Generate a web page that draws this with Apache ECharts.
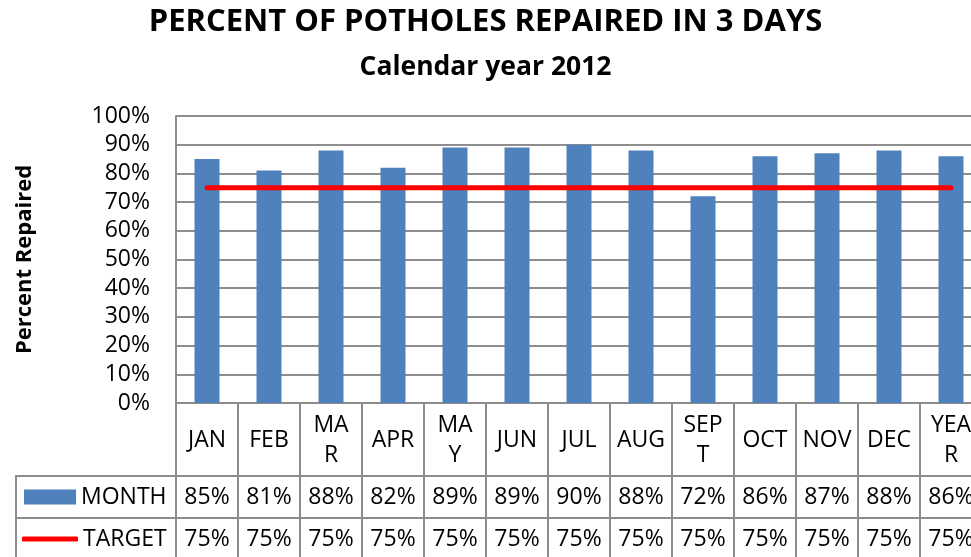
<!DOCTYPE html>
<html>
<head>
<meta charset="utf-8">
<script src="https://cdn.jsdelivr.net/npm/echarts@6/dist/echarts.min.js"></script>
<style>
  html, body { margin: 0; padding: 0; background: #fff; }
  #chart { width: 971px; height: 557px; }
</style>
</head>
<body>
<div id="chart"></div>
<script>
// data
const categories = ['JAN', 'FEB', 'MAR', 'APR', 'MAY', 'JUN', 'JUL', 'AUG', 'SEPT', 'OCT', 'NOV', 'DEC', 'YEAR']
// labels as wrapped in the table header
const catLabels = ['JAN', 'FEB', 'MA\nR', 'APR', 'MA\nY', 'JUN', 'JUL', 'AUG', 'SEP\nT', 'OCT', 'NOV', 'DEC', 'YEA\nR']
const monthValues = [85, 81, 88, 82, 89, 89, 90, 88, 72, 86, 87, 88, 86]
const targetValues = [75, 75, 75, 75, 75, 75, 75, 75, 75, 75, 75, 75, 75]
const yTicks = { min: 0, max: 100, interval: 10 }

const FONT = 'Open Sans'
const GRID_COLOR = '#8e8e8e'
const BORDER = '#8c8c8c'

const chart = echarts.init(document.getElementById('chart'))

const pct = v => v + '%'

// one bottom axis per table row, ticks draw the cell borders
function rowAxis(data, offset, margin, tickLen) {
  return {
    type: 'category',
    gridIndex: 0,
    position: 'bottom',
    offset: offset,
    data: data,
    boundaryGap: true,
    axisLine: { show: true, lineStyle: { color: BORDER, width: 2 } },
    axisTick: { show: true, length: tickLen, lineStyle: { color: BORDER, width: 2 } },
    axisLabel: {
      interval: 0,
      margin: margin,
      verticalAlign: 'middle',
      color: '#000',
      fontFamily: FONT,
      fontSize: 23,
      lineHeight: 30
    },
    splitLine: { show: false }
  }
}

const legendText = { fontFamily: FONT, fontSize: 23, color: '#000', lineHeight: 24 }

const option = {
  animation: false,
  title: [
    {
      text: 'PERCENT OF POTHOLES REPAIRED IN 3 DAYS',
      left: 'center',
      top: 2,
      textStyle: { fontFamily: FONT, fontWeight: 'bold', fontSize: 31, color: '#000' }
    },
    {
      text: 'Calendar year 2012',
      left: 'center',
      top: 49,
      textStyle: { fontFamily: FONT, fontWeight: 'bold', fontSize: 26.5, color: '#000' }
    }
  ],
  legend: [
    {
      left: 19,
      top: 480,
      itemWidth: 52,
      itemHeight: 15,
      data: [{ name: 'MONTH', icon: 'rect' }],
      textStyle: legendText
    },
    {
      left: 17,
      top: 522,
      itemWidth: 56,
      itemHeight: 5,
      data: [{ name: 'TARGET', icon: 'roundRect' }],
      textStyle: legendText
    }
  ],
  grid: {
    left: 176,
    top: 116,
    right: -11,
    height: 287,
    outerBoundsMode: 'none',
    containLabel: false
  },
  xAxis: [
    rowAxis(catLabels, 0, 37, 73),
    rowAxis(monthValues.map(pct), 73, 21, 42),
    rowAxis(targetValues.map(pct), 115, 21, 45)
  ],
  yAxis: {
    type: 'value',
    min: yTicks.min,
    max: yTicks.max,
    interval: yTicks.interval,
    name: 'Percent Repaired',
    nameLocation: 'middle',
    nameRotate: 90,
    nameGap: 140,
    nameTextStyle: { fontFamily: FONT, fontWeight: 'bold', fontSize: 22, color: '#000' },
    axisLine: { show: true, lineStyle: { color: GRID_COLOR, width: 2 } },
    axisTick: { show: false },
    axisLabel: {
      formatter: '{value}%',
      margin: 26,
      color: '#000',
      fontFamily: FONT,
      fontSize: 23
    },
    splitLine: { show: true, lineStyle: { color: GRID_COLOR, width: 2 } }
  },
  graphic: [
    // row header cells (legend column)
    {
      type: 'rect',
      shape: { x: 16, y: 476, width: 160, height: 100 },
      style: { fill: 'none', stroke: BORDER, lineWidth: 2 },
      z: 1
    },
    {
      type: 'line',
      shape: { x1: 16, y1: 518, x2: 176, y2: 518 },
      style: { stroke: BORDER, lineWidth: 2 },
      z: 1
    }
  ],
  series: [
    {
      name: 'MONTH',
      type: 'bar',
      xAxisIndex: 0,
      data: monthValues,
      barWidth: 25,
      itemStyle: { color: '#4f81bd' }
    },
    {
      name: 'TARGET',
      type: 'line',
      xAxisIndex: 0,
      data: targetValues,
      symbol: 'none',
      lineStyle: { color: '#ff0000', width: 5, cap: 'round' },
      itemStyle: { color: '#ff0000' }
    }
  ]
}

chart.setOption(option)
</script>
</body>
</html>
